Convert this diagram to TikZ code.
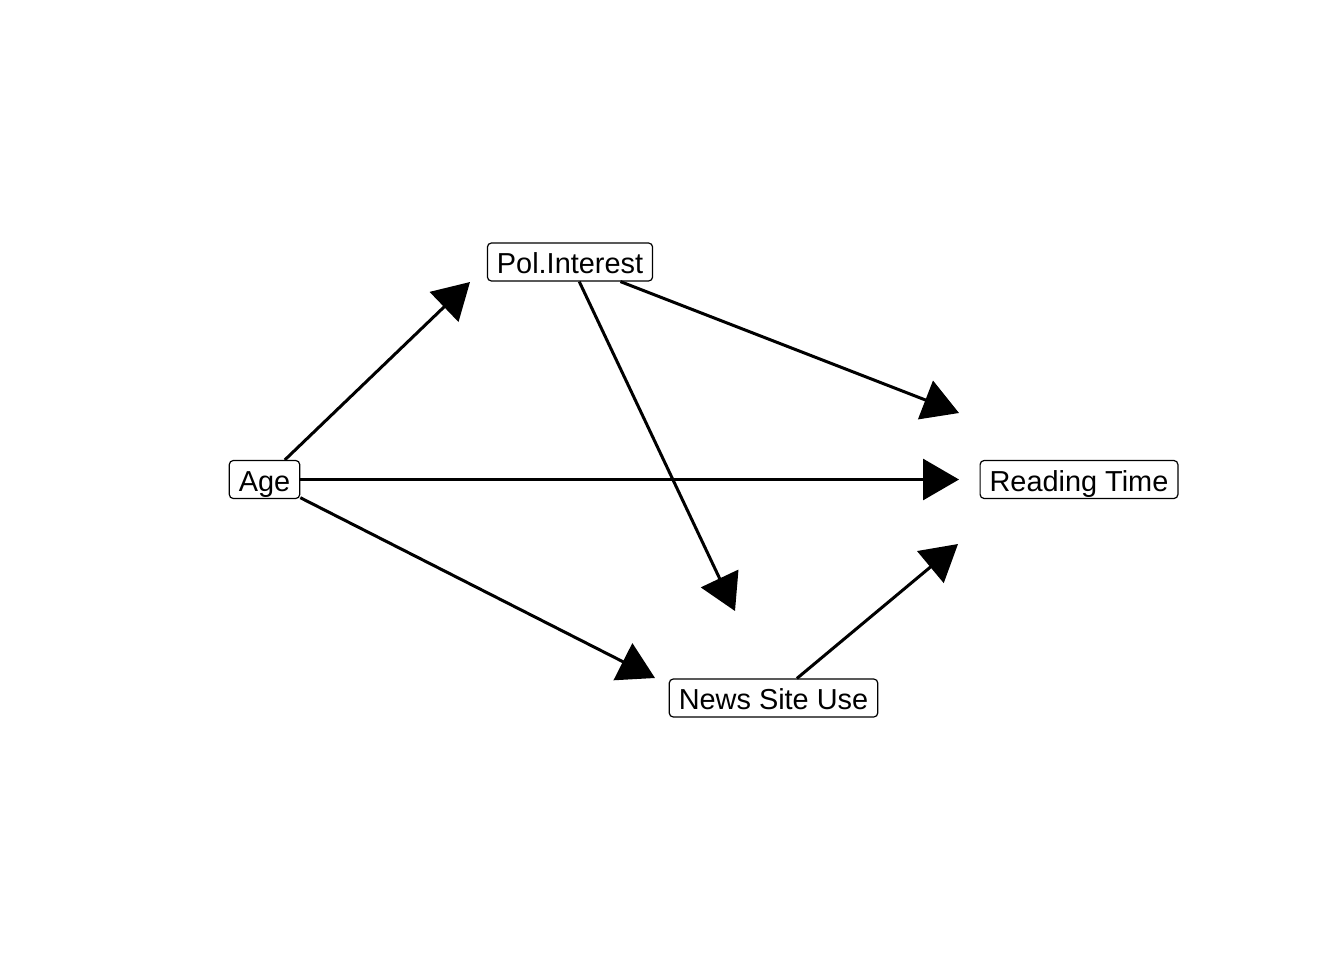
\documentclass[tikz,border=0pt]{standalone}
\usepackage{fontspec}
\setmainfont{Liberation Sans}
\usetikzlibrary{arrows.meta}
\begin{document}
\begin{tikzpicture}[x=1bp,y=-1bp,
  var/.style={draw=black, line width=1.2bp, rounded corners=4bp, fill=white,
    font=\fontsize{29}{32}\selectfont, inner xsep=9.5bp, inner ysep=0bp,
    minimum height=38bp, text height=25bp, text depth=2bp},
  edge/.style={line width=3bp, -{Triangle[length=36bp,width=41bp]}}]
\useasboundingbox (0,0) rectangle (1344,960);
\node[var] (age) at (264.5,479.5) {Age};
\node[var] (pol) at (570,262) {Pol.Interest};
\node[var] (read) at (1079,479.5) {Reading Time};
\node[var] (news) at (773.5,698) {News Site Use};
\coordinate (t1) at (470,282);
\coordinate (t2) at (959,479.5);
\coordinate (t3) at (655,678);
\coordinate (t4) at (959,413);
\coordinate (t5) at (735,611);
\coordinate (t6) at (958,544);
\draw[edge] (age) -- (t1);
\draw[edge] (age) -- (t2);
\draw[edge] (age) -- (t3);
\draw[edge] (pol) -- (t4);
\draw[edge] (pol) -- (t5);
\draw[edge] (news) -- (t6);
\end{tikzpicture}
\end{document}
